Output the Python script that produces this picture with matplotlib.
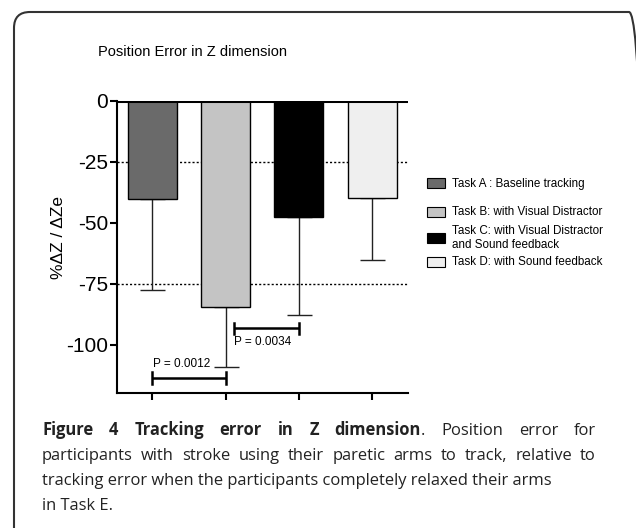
import numpy as np
import matplotlib
matplotlib.use("Agg")
import matplotlib.pyplot as plt
from matplotlib.patches import FancyBboxPatch, Rectangle

plt.rcParams['font.family'] = ['Liberation Sans', 'DejaVu Sans']

# data
tasks = ["Task A : Baseline tracking",
         "Task B: with Visual Distractor",
         "Task C: with Visual Distractor\nand Sound feedback",
         "Task D: with Sound feedback"]
means = [-40.4, -84.5, -47.9, -39.9]
sd = [37.2, 24.8, 39.9, 25.4]
colors = ["#6a6a6a", "#c4c4c4", "#000000", "#efefef"]
yticks = [0, -25, -50, -75, -100]
ref_lines = [-25, -75]
# significance brackets: (x start, x end, y, label, label x, label y)
sig = [(0.0, 1.0, -113.7, "P = 0.0012", 0.01, -107.9),
       (1.115, 2.0, -93.3, "P = 0.0034", 1.115, -98.8)]

W, H = 636, 528
fig = plt.figure(figsize=(W / 100, H / 100), dpi=100)

# rounded frame around the figure panel (runs off bottom and right)
frame = FancyBboxPatch((0.14, -0.6), 6.31, 5.76,
                       boxstyle="round,pad=0,rounding_size=0.16",
                       transform=fig.dpi_scale_trans, fill=False,
                       lw=1.5, ec="#333333")
fig.patches.append(frame)

ax = fig.add_axes([116.7 / W, 1 - 393.3 / H, (408 - 116.7) / W, (393.3 - 100.7) / H])
x = np.arange(len(means))
ax.bar(x, means, width=0.67, color=colors, edgecolor="black", linewidth=1.0, zorder=3)
ax.errorbar(x, means, yerr=[sd, np.zeros(len(sd))], fmt="none", ecolor="#222222",
            elinewidth=1.0, capsize=9, capthick=1.0, zorder=2)

for yl in ref_lines:
    ax.axhline(yl, color="black", lw=1.0, ls=(0, (1.5, 1.5)), zorder=1)
ax.axhline(0, color="black", lw=2.2, zorder=4)

for x0, x1, yb, lab, lx, ly in sig:
    ax.plot([x0, x1], [yb, yb], color="black", lw=1.8, solid_capstyle="butt", zorder=5)
    for xe in (x0, x1):
        ax.plot([xe, xe], [yb - 2.3, yb + 2.3], color="black", lw=1.8, zorder=5)
    ax.text(lx, ly, lab, fontsize=8.5, ha="left", va="center", zorder=6)

ax.set_xlim(-0.486, 3.49)
ax.set_ylim(-120, 0)
ax.set_xticks(x)
ax.set_xticklabels([])
ax.set_yticks(yticks)
ax.set_yticklabels([str(v) for v in yticks], fontsize=15)
ax.tick_params(axis="both", direction="out", length=5, width=1.5, pad=1)
for s in ("top", "right"):
    ax.spines[s].set_visible(False)
for s in ("left", "bottom"):
    ax.spines[s].set_linewidth(1.5)
ax.set_ylabel("%ΔZ / ΔZe", fontsize=12.5)
ax.yaxis.set_label_coords(-0.175, 0.531)

fig.text(98 / W, 1 - 52 / H, "Position Error in Z dimension", fontsize=10.5,
         ha="left", va="center")

# legend drawn by hand to match the original layout
leg_y = [183.5, 212, 238, 262]
for lab, c, yy in zip(tasks, colors, leg_y):
    fig.patches.append(Rectangle((426.5 / W, 1 - (yy + 5) / H), 18 / W, 10 / H,
                                 transform=fig.transFigure, fc=c, ec="black", lw=0.8))
    fig.text(452 / W, 1 - yy / H, lab, fontsize=8.4, ha="left", va="center",
             linespacing=1.15)

# caption, first two lines justified
cap_font = ['Open Sans', 'DejaVu Sans']
cap_color = "#222222"
line1 = [[("Figure", "bold")], [("4", "bold")], [("Tracking", "bold")], [("error", "bold")],
         [("in", "bold")], [("Z", "bold")], [("dimension", "bold"), (".", "normal")],
         [("Position", "normal")], [("error", "normal")], [("for", "normal")]]
line2 = [[(w, "normal")] for w in
         "participants with stroke using their paretic arms to track, relative to".split()]
line3 = "tracking error when the participants completely relaxed their arms"
line4 = "in Task E."

renderer = fig.canvas.get_renderer()

# size the caption font so the (unjustified) third line spans 42..555 px
probe = fig.text(0, 0, line3, fontsize=10, family=cap_font)
cap_size = 10 * 513 / probe.get_window_extent(renderer).width
probe.remove()


def justify(tokens, ybase, xl, xr):
    placed = []
    widths = []
    for tok in tokens:
        segs = []
        tw = 0
        for txt, wt in tok:
            t = fig.text(0, 1 - ybase / H, txt, fontsize=cap_size, fontweight=wt,
                         family=cap_font, color=cap_color, va="baseline", ha="left")
            w = t.get_window_extent(renderer).width
            segs.append((t, w))
            tw += w
        placed.append(segs)
        widths.append(tw)
    gap = (xr - xl - sum(widths)) / (len(tokens) - 1)
    xx = xl
    for segs, tw in zip(placed, widths):
        xs = xx
        for t, w in segs:
            t.set_x(xs / W)
            xs += w
        xx += tw + gap


justify(line1, 435, 42, 596)
justify(line2, 460, 42, 596)
fig.text(42 / W, 1 - 485 / H, line3, fontsize=cap_size, family=cap_font,
         color=cap_color, va="baseline")
fig.text(42 / W, 1 - 510 / H, line4, fontsize=cap_size, family=cap_font,
         color=cap_color, va="baseline")

fig.savefig("out.png", dpi=100)
